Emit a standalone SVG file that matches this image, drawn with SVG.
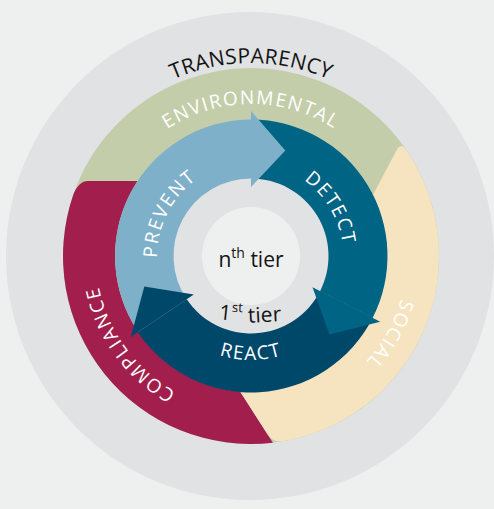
<svg xmlns="http://www.w3.org/2000/svg" width="494" height="509" viewBox="0 0 494 509">
<style>
.t{font-family:"Open Sans","Liberation Sans",sans-serif}
.w{fill:#ffffff}
.k{fill:#141414}
.seg{font-size:19px;letter-spacing:1.6px}
.arw{font-size:19px;letter-spacing:1.7px}
</style>
<defs>
<path id="pTrans" d="M 58,256 A 193 193 0 0 1 444,256"/>
<path id="pEnv" d="M 99,256 A 152 152 0 0 1 403,256"/>
<path id="pSoc" d="M 327.8,120.2 A 156 156 0 0 1 174.2,391.8"/>
<path id="pComp" d="M 342.7,382.2 A 156 156 0 0 1 159.3,129.8"/>
<path id="pPrev" d="M 207.4,341.5 A 96 96 0 0 1 294.6,170.5"/>
<path id="pDet" d="M 202.1,174.6 A 95 95 0 0 1 299.9,337.4"/>
<path id="pReact" d="M 147,256 A 104 104 0 0 0 355,256"/>
</defs>
<rect x="0" y="0" width="494" height="509" fill="#eeefef"/>
<g id="transparency">
<circle cx="250" cy="256" r="244" fill="#e1e2e3"/>
<text class="t k" font-size="21" letter-spacing="0.3"><textPath href="#pTrans" startOffset="50%" text-anchor="middle">TRANSPARENCY</textPath></text>
</g>
<g id="environmental">
<circle cx="251" cy="256" r="161" fill="none" stroke="#c4cdaa" stroke-width="54"/>
<text class="t w seg"><textPath href="#pEnv" startOffset="50%" text-anchor="middle">ENVIRONMENTAL</textPath></text>
</g>
<g id="compliance">
<path d="M 88,181 L 137.6,181 A 136 136 0 0 0 240.1,391.6 L 272.9,442.7 A 188 188 0 0 1 73.25,194.8 Q 78.6,181 88,181 Z" fill="#a21e4c"/>
<text class="t w seg" letter-spacing="1.9"><textPath href="#pComp" startOffset="50%" text-anchor="middle">COMPLIANCE</textPath></text>
</g>
<g id="social">
<path d="M 240.1,391.6 L 267.5,434.3 Q 272.9,442.7 282.0,441.4 A 188 188 0 0 0 405.9,149.5 Q 400.8,142.3 396.6,150.2 L 372.7,195.3 A 136 136 0 0 1 240.1,391.6 Z" fill="#f5e4bf"/>
<text class="t w seg" letter-spacing="1.2"><textPath href="#pSoc" startOffset="50%" text-anchor="middle">SOCIAL</textPath></text>
</g>
<g id="connectors">
<path id="body-prevent" d="M 138.25,332.05 A 136.5 136.5 0 0 1 251,119.5 L 251,178.5 A 77.5 77.5 0 0 0 186.75,299.34 Z" fill="#7fb0c9"/>
<path id="body-detect" d="M 251,119.5 A 136.5 136.5 0 0 1 372.6,318 L 320.05,291.19 A 77.5 77.5 0 0 0 251,178.5 Z" fill="#006485"/>
<path id="body-react" d="M 372.6,318 A 136.5 136.5 0 0 1 137.8,332.3 L 186.75,299.34 A 77.5 77.5 0 0 0 320.05,291.19 Z" fill="#00486a"/>
</g>
<g id="nth-tier">
<circle cx="251" cy="256" r="49" fill="#eeefef"/>
<text class="t k" x="251" y="267" font-size="21" text-anchor="middle">n<tspan font-size="14" baseline-shift="super">th</tspan> tier</text>
</g>
<g id="heads">
<polygon points="251,187 251,111 285.3,150.4" fill="#7fb0c9"/>
<polygon points="312.5,287.3 380.2,321.8 329.5,334.5" fill="#006485"/>
<polygon points="193.8,294.6 130.8,337.1 144.3,286.6" fill="#00486a"/>
</g>
<g id="prevent"><text class="t w arw"><textPath href="#pPrev" startOffset="50%" text-anchor="middle">PREVENT</textPath></text></g>
<g id="detect"><text class="t w arw"><textPath href="#pDet" startOffset="50%" text-anchor="middle">DETECT</textPath></text></g>
<g id="react"><text class="t w" font-size="19" letter-spacing="1.5"><textPath href="#pReact" startOffset="50%" text-anchor="middle">REACT</textPath></text></g>
<g id="first-tier">
<text class="t k" x="219" y="320" font-size="21" transform="rotate(6 225 315)">1</text>
<text class="t k" x="232" y="312" font-size="13" transform="rotate(3 237 308)">st</text>
<text class="t k" x="248" y="322" font-size="21" transform="rotate(-3 264 316)">tier</text>
</g>
</svg>
